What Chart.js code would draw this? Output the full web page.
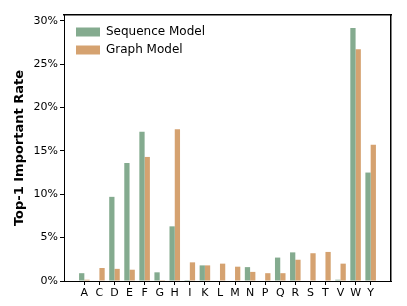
<!DOCTYPE html>
<html>
<head>
<meta charset="utf-8">
<script src="https://cdn.jsdelivr.net/npm/chart.js@4.4.0/dist/chart.umd.min.js"></script>
<style>
  html, body { margin: 0; padding: 0; background: #fff; }
  #wrap { width: 407px; height: 306px; }
</style>
</head>
<body>
<div id="wrap"><canvas id="chart" width="407" height="306"></canvas></div>
<script>
// amino acid categories
const residues = ["A", "C", "D", "E", "F", "G", "H", "I", "K", "L", "M", "N", "P", "Q", "R", "S", "T", "V", "W", "Y"];
// top-1 important rate (%)
const sequenceModel = [0.9, 0, 9.7, 13.6, 17.2, 1.0, 6.3, 0.1, 1.8, 0, 0, 1.6, 0, 2.7, 3.3, 0, 0, 0.15, 29.15, 12.5];
const graphModel = [0.15, 1.5, 1.4, 1.3, 14.3, 0.1, 17.5, 2.15, 1.8, 2.0, 1.65, 1.05, 0.9, 0.9, 2.45, 3.2, 3.35, 2.0, 26.7, 15.7];
const yTicks = [0, 5, 10, 15, 20, 25, 30];

const GREEN = "rgb(132,171,143)";
const ORANGE = "rgb(213,162,112)";
const FONT = "'DejaVu Sans', sans-serif";

// nudge the legend a bit inside the plot, like the original
const legendNudge = {
    id: "legendNudge",
    beforeDraw(chart) {
        if (chart.legend) {
            chart.legend.left = chart.chartArea.left + 6;
            chart.legend.top = chart.chartArea.top + 5;
        }
    }
};

// empty axis used only for its border line (top / right spines)
function spine(position, axis) {
    return {
        type: "linear",
        position: position,
        axis: axis,
        min: 0,
        max: 1,
        afterFit: (s) => { if (axis === "x") s.height = 0; else s.width = 0; },
        grid: { display: false },
        ticks: { display: false },
        border: { display: true, color: "#000", width: 1.5 }
    };
}

const ctx = document.getElementById("chart").getContext("2d");
new Chart(ctx, {
    type: "bar",
    data: {
        datasets: [
            {
                label: "Sequence Model",
                data: sequenceModel.map((v, i) => ({ x: i, y: v })),
                backgroundColor: GREEN,
                borderWidth: 0
            },
            {
                label: "Graph Model",
                data: graphModel.map((v, i) => ({ x: i, y: v })),
                backgroundColor: ORANGE,
                borderWidth: 0
            }
        ]
    },
    options: {
        responsive: false,
        animation: false,
        layout: { padding: { left: 0, right: 16, top: 15, bottom: 0 } },
        datasets: { bar: { categoryPercentage: 0.7, barPercentage: 1.0 } },
        plugins: {
            tooltip: { enabled: false },
            legend: {
                position: "chartArea",
                align: "start",
                labels: {
                    boxWidth: 24,
                    boxHeight: 9,
                    padding: 6,
                    color: "#000",
                    font: { family: FONT, size: 12 }
                }
            }
        },
        scales: {
            x: {
                type: "linear",
                offset: false,
                min: -1.35,
                max: 20.35,
                afterBuildTicks: (axis) => {
                    axis.ticks = residues.map((_, i) => ({ value: i }));
                },
                afterFit: (axis) => { axis.height = 25; },
                grid: { offset: false, drawOnChartArea: false, drawTicks: true, tickLength: 4, color: "#000" },
                border: { color: "#000", width: 1 },
                ticks: {
                    autoSkip: false,
                    maxRotation: 0,
                    padding: 2,
                    color: "#000",
                    font: { family: FONT, size: 11 },
                    callback: (v) => residues[v]
                }
            },
            y: {
                min: 0,
                max: 30.66,
                afterBuildTicks: (axis) => {
                    axis.ticks = yTicks.map(v => ({ value: v }));
                },
                afterFit: (axis) => { axis.width = 64; },
                grid: { drawOnChartArea: false, drawTicks: true, tickLength: 4, color: "#000" },
                border: { color: "#000", width: 1 },
                ticks: {
                    padding: 2,
                    color: "#000",
                    font: { family: FONT, size: 11 },
                    callback: (v) => v + "%"
                },
                title: {
                    display: true,
                    text: "Top-1 Important Rate",
                    color: "#000",
                    font: { family: FONT, size: 13, weight: "bold" },
                    padding: { top: 12, bottom: 4 }
                }
            },
            xTop: spine("top", "x"),
            yRight: spine("right", "y")
        }
    },
    plugins: [legendNudge]
});
</script>
</body>
</html>
